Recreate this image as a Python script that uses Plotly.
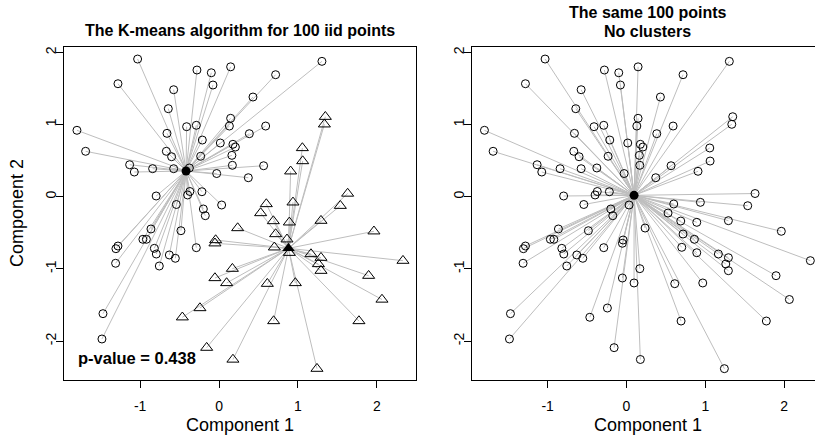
import plotly.graph_objects as go

W, H = 815, 439
FONT = "Liberation Sans, Arial, Helvetica, sans-serif"

# ---- data ----
# cluster 1 (open circles in the left panel)
circ_x = [-1.032, -1.281, -0.280, -0.098, 0.147, -0.077, -0.575, -0.643, -1.801, -0.411,
          -0.288, -0.660, -0.212, 0.016, -1.691, -0.668, -0.601, -0.233, -1.133, -1.074,
          -0.842, -0.575, -0.376, -0.030, 0.147, 0.131, -0.797, -0.398, -0.370, -0.217,
          -0.541, 0.717, 1.304, 0.430, 0.591, 0.384, 0.176, 0.207, 0.163, 0.169,
          0.565, 0.371, 0.033, -0.174, -0.199, -0.863, -0.483, -0.965, -0.921, -1.281,
          -1.307, -0.820, -0.795, -0.630, -0.554, -0.757, -1.311, -0.288, -1.471, -1.484]
circ_y = [1.907, 1.565, 1.755, 1.717, 1.799, 1.547, 1.482, 1.219, 0.920, 0.970,
          0.989, 0.878, 0.785, 0.744, 0.629, 0.629, 0.554, 0.560, 0.443, 0.342,
          0.388, 0.388, 0.398, 0.321, 1.086, 0.979, 0.010, 0.024, 0.072, 0.069,
          -0.108, 1.690, 1.875, 1.381, 0.979, 0.873, 0.726, 0.688, 0.573, 0.435,
          0.429, 0.263, -0.115, -0.263, -0.170, -0.447, -0.471, -0.590, -0.590, -0.683,
          -0.720, -0.715, -0.794, -0.807, -0.853, -0.960, -0.922, -0.706, -1.620, -1.971]
# cluster 2 (open triangles in the left panel)
tri_x = [1.347, 1.335, 1.056, 1.060, 0.907, 1.630, 0.599, 0.937, 1.537, 0.527,
         0.688, 0.891, 1.292, 1.963, 0.236, 0.717, 0.861, 0.701, 0.891, 1.165,
         1.292, 1.259, 1.292, 2.331, 1.896, 2.065, 1.773, 0.967, 0.612, 0.169,
         0.096, 0.692, 0.176, 1.241, -0.043, -0.052, -0.052, -0.242, -0.465, -0.157]
tri_y = [1.108, 1.003, 0.675, 0.494, 0.352, 0.044, -0.101, -0.078, -0.125, -0.226,
         -0.337, -0.355, -0.332, -0.479, -0.434, -0.517, -0.590, -0.701, -0.776, -0.794,
         -0.845, -0.932, -1.025, -0.886, -1.094, -1.424, -1.722, -1.195, -1.205, -0.997,
         -1.195, -1.722, -2.255, -2.382, -0.600, -0.645, -1.126, -1.542, -1.670, -2.091]
center_circ = [-0.418, 0.356]
center_tri = [0.880, -0.715]
center_all = [0.096, 0.019]
x_ticks = [-1, 0, 1, 2]
y_ticks = [-2, -1, 0, 1, 2]
p_value = 0.438

all_x = circ_x + tri_x
all_y = circ_y + tri_y


def segments(xs, ys, c):
    sx, sy = [], []
    for x, y in zip(xs, ys):
        sx += [c[0], x, None]
        sy += [c[1], y, None]
    return sx, sy


LINE = dict(color="#BEBEBE", width=1)
fig = go.Figure()

# ---- left panel ----
for xs, ys, c in [(circ_x, circ_y, center_circ), (tri_x, tri_y, center_tri)]:
    sx, sy = segments(xs, ys, c)
    fig.add_trace(go.Scatter(x=sx, y=sy, mode="lines", line=LINE, xaxis="x", yaxis="y",
                             hoverinfo="skip"))
fig.add_trace(go.Scatter(x=circ_x, y=circ_y, mode="markers", xaxis="x", yaxis="y",
                         marker=dict(symbol="circle-open", size=8, color="black",
                                     line=dict(width=1))))
fig.add_trace(go.Scatter(x=tri_x, y=tri_y, mode="markers", xaxis="x", yaxis="y",
                         marker=dict(symbol="triangle-up-open", size=10.5, color="black",
                                     line=dict(width=1))))
fig.add_trace(go.Scatter(x=[center_circ[0]], y=[center_circ[1]], mode="markers",
                         xaxis="x", yaxis="y",
                         marker=dict(symbol="circle", size=9, color="black")))
fig.add_trace(go.Scatter(x=[center_tri[0]], y=[center_tri[1]], mode="markers",
                         xaxis="x", yaxis="y",
                         marker=dict(symbol="triangle-up", size=11, color="black")))

# ---- right panel ----
sx, sy = segments(all_x, all_y, center_all)
fig.add_trace(go.Scatter(x=sx, y=sy, mode="lines", line=LINE, xaxis="x2", yaxis="y2",
                         hoverinfo="skip"))
fig.add_trace(go.Scatter(x=all_x, y=all_y, mode="markers", xaxis="x2", yaxis="y2",
                         marker=dict(symbol="circle-open", size=8, color="black",
                                     line=dict(width=1))))
fig.add_trace(go.Scatter(x=[center_all[0]], y=[center_all[1]], mode="markers",
                         xaxis="x2", yaxis="y2",
                         marker=dict(symbol="circle", size=9, color="black")))


def px_x(p):
    return p / W


def px_y(p):
    return 1 - p / H


AX = dict(showgrid=False, zeroline=False, showline=True, linecolor="black", linewidth=1,
          ticks="outside", ticklen=7, tickwidth=1, tickcolor="black",
          tickfont=dict(family=FONT, size=14, color="black"), tickmode="array")

ydom = [px_y(380), px_y(46.7)]
fig.update_layout(
    width=W, height=H, margin=dict(l=0, r=0, t=0, b=0),
    paper_bgcolor="white", plot_bgcolor="white", showlegend=False,
    xaxis=dict(AX, domain=[px_x(64), px_x(416.3)], range=[-1.965, 2.50], anchor="y",
               mirror=True, tickvals=x_ticks, ticktext=[str(v) for v in x_ticks],
               ticklabelstandoff=6),
    yaxis=dict(AX, domain=ydom, range=[-2.539, 2.078], anchor="x", mirror=True,
               tickvals=y_ticks, ticktext=[str(v) for v in y_ticks], tickangle=-90,
               ticklabelstandoff=-6),
    xaxis2=dict(AX, domain=[px_x(471.5), 1.0], range=[-1.965, 2.390], anchor="y2",
                mirror=True, tickvals=x_ticks, ticktext=[str(v) for v in x_ticks],
                ticklabelstandoff=6),
    yaxis2=dict(AX, domain=ydom, range=[-2.539, 2.078], anchor="x2", mirror=False,
                tickvals=y_ticks, ticktext=[str(v) for v in y_ticks], tickangle=-90,
                ticklabelstandoff=-6),
)


def ann(text, x, y, size, bold=False, angle=0, xanchor="center"):
    fig.add_annotation(text=f"<b>{text}</b>" if bold else text, x=px_x(x), y=px_y(y),
                       xref="paper", yref="paper", showarrow=False, textangle=angle,
                       xanchor=xanchor, yanchor="middle",
                       font=dict(family=FONT, size=size, color="black"))


ann("The K-means algorithm for 100 iid points", 240, 30, 16, bold=True)
ann("The same 100 points", 647.7, 13, 16, bold=True)
ann("No clusters", 647.7, 31, 16, bold=True)
ann("Component 1", 240, 425, 18)
ann("Component 1", 647.7, 425, 18)
ann("Component 2", 17, 213, 18, angle=-90)
ann(f"p-value = {p_value}", 76, 357.5, 16.5, bold=True, xanchor="left")

fig.write_html("out.html")
